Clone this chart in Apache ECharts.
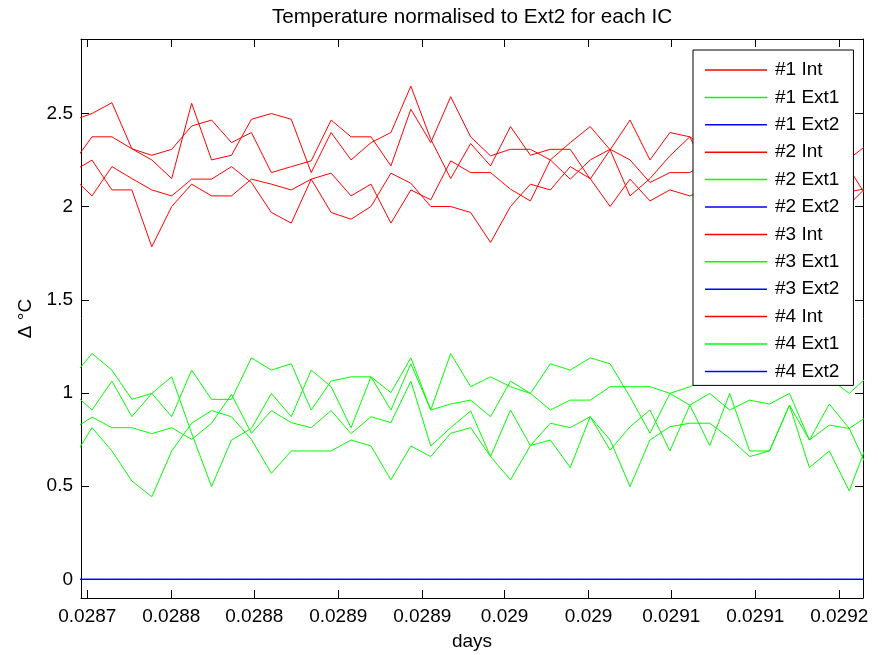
<!DOCTYPE html>
<html><head><meta charset="utf-8">
<script src="https://cdn.jsdelivr.net/npm/echarts@6/dist/echarts.min.js"></script>
<style>html,body{margin:0;padding:0;background:#fff}#c{width:878px;height:655px}</style>
</head><body><div id="c"></div>
<script>
// sample index 0..40 (x axis), tick positions expressed in sample-index units
const xTickValues = [0.764, 4.979, 9.143, 13.358, 17.573, 21.707, 25.922, 30.067, 34.282, 38.497];
const xTickLabels = ['0.0287','0.0288','0.0288','0.0289','0.0289','0.029','0.029','0.0291','0.0291','0.0292'];
const yTickValues = [0, 0.5, 1, 1.5, 2, 2.5];
const yTickLabels = ['0','0.5','1','1.5','2','2.5'];

const seriesNames = ['#1 Int','#1 Ext1','#1 Ext2','#2 Int','#2 Ext1','#2 Ext2','#3 Int','#3 Ext1','#3 Ext2','#4 Int','#4 Ext1','#4 Ext2'];

const int1 = [2.462,2.500,2.558,2.311,2.276,2.308,2.433,2.465,2.344,2.398,2.183,2.215,2.246,2.465,2.375,2.375,2.219,2.523,2.344,2.590,2.375,2.273,2.308,2.308,2.251,2.148,2.251,2.308,2.251,2.130,2.183,2.183,2.25,2.30,2.20,2.35,2.28,2.22,2.30,2.258,2.340];
const int2 = [2.228,2.375,2.375,2.311,2.251,2.151,2.555,2.251,2.276,2.469,2.500,2.469,2.183,2.398,2.251,2.344,2.398,2.647,2.362,2.151,2.339,2.219,2.430,2.276,2.308,2.308,2.148,2.305,2.465,2.251,2.398,2.375,2.30,2.20,2.35,2.25,2.30,2.18,2.24,2.203,2.033];
const int3 = [2.187,2.250,2.090,2.090,1.785,2.001,2.121,2.058,2.058,2.148,2.121,2.090,2.148,2.180,2.058,2.121,1.912,2.090,2.037,2.246,2.183,2.183,2.094,2.031,2.251,2.344,2.430,2.305,2.058,2.151,2.273,2.375,2.15,2.10,2.20,2.05,2.12,2.08,2.05,2.012,2.120];
const int4 = [2.161,2.058,2.215,2.151,2.090,2.058,2.148,2.148,2.215,2.130,1.969,1.912,2.148,1.969,1.933,2.001,2.180,2.126,2.001,2.001,1.969,1.808,2.001,2.121,2.090,2.215,2.151,2.001,2.148,2.031,2.090,2.058,2.10,2.05,2.12,2.00,2.08,2.10,2.08,2.08,2.10];

const ext1_1 = [1.083,1.212,1.123,0.966,0.998,1.087,0.784,0.498,0.748,0.810,0.998,0.873,1.123,1.034,0.814,1.087,1.002,1.189,0.909,1.212,1.034,1.087,1.034,0.998,0.909,0.962,0.962,1.034,1.034,1.034,0.998,1.034,1.078,1.096,1.078,1.061,1.114,1.061,1.078,0.998,1.096];
const ext1_2 = [1.005,0.909,1.064,0.873,0.998,0.873,1.123,0.966,0.966,1.189,1.123,1.157,0.909,1.064,1.087,1.087,0.909,1.157,0.909,0.941,0.962,0.873,1.064,0.998,1.157,1.123,1.189,1.157,0.980,0.784,0.998,0.935,0.998,0.909,0.962,0.941,0.998,0.748,0.941,0.810,0.881];
const ext1_3 = [0.801,0.871,0.814,0.814,0.782,0.814,0.751,0.838,0.993,0.784,0.906,0.841,0.814,0.906,0.782,0.873,0.841,1.064,0.716,0.814,0.904,0.659,0.909,0.718,0.838,0.814,0.873,0.694,0.819,0.909,0.689,0.935,0.718,0.998,0.689,0.689,0.935,0.748,0.828,0.810,0.578];
const ext1_4 = [0.640,0.814,0.689,0.528,0.443,0.689,0.838,0.906,0.873,0.751,0.569,0.689,0.689,0.689,0.748,0.716,0.534,0.716,0.659,0.784,0.814,0.659,0.534,0.718,0.748,0.600,0.873,0.748,0.498,0.748,0.819,0.838,0.838,0.757,0.659,0.689,0.935,0.600,0.689,0.475,0.757];

const ext2 = [0,0,0,0,0,0,0,0,0,0,0,0,0,0,0,0,0,0,0,0,0,0,0,0,0,0,0,0,0,0,0,0,0,0,0,0,0,0,0,0,0];

const seriesData = [int1, ext1_1, ext2, int2, ext1_2, ext2, int3, ext1_3, ext2, int4, ext1_4, ext2];
const colors = ['#ff0000','#00ff00','#0000ff'];

const FONT = 'Liberation Sans, Arial, Helvetica, sans-serif';
const chart = echarts.init(document.getElementById('c'), null, {renderer: 'canvas'});

function nearestLabel(v, vals, labels) {
  let best = 0;
  for (let i = 1; i < vals.length; i++) if (Math.abs(vals[i]-v) < Math.abs(vals[best]-v)) best = i;
  return labels[best];
}

const axisCommon = {
  axisLine: {show: true, onZero: false, lineStyle: {color: '#000', width: 1}},
  splitLine: {show: false}
};

chart.setOption({
  animation: false,
  backgroundColor: '#fff',
  title: {
    text: 'Temperature normalised to Ext2 for each IC',
    left: 467, top: 1.5, textAlign: 'center',
    textStyle: {fontFamily: FONT, fontSize: 20.7, fontWeight: 'normal', color: '#000'}
  },
  grid: {left: 81, right: 15, top: 39, bottom: 57, containLabel: false, outerBoundsMode: 'none'},
  legend: {
    orient: 'vertical', left: 693, top: 50,
    backgroundColor: '#fff', borderColor: '#000', borderWidth: 1, borderRadius: 0,
    padding: [10, 14, 4, 12],
    icon: 'rect',
    itemWidth: 62, itemHeight: 1.5, itemGap: 7.4,
    textStyle: {fontFamily: FONT, fontSize: 19, color: '#000', lineHeight: 20, padding: [0,0,0,3]},
    data: seriesNames
  },
  xAxis: [
    Object.assign({}, axisCommon, {
      type: 'value', min: 0.448, max: 39.69, position: 'bottom',
      name: 'days', nameLocation: 'middle', nameGap: 34,
      nameTextStyle: {fontFamily: FONT, fontSize: 19, color: '#000'},
      axisTick: {show: true, inside: true, length: 8, lineStyle: {color: '#000'}, customValues: xTickValues},
      axisLabel: {show: true, margin: 9, fontFamily: FONT, fontSize: 19, color: '#000', customValues: xTickValues,
        formatter: v => nearestLabel(v, xTickValues, xTickLabels)}
    }),
    Object.assign({}, axisCommon, {
      type: 'value', min: 0.448, max: 39.69, position: 'top',
      axisTick: {show: true, inside: true, length: 8, lineStyle: {color: '#000'}, customValues: xTickValues},
      axisLabel: {show: false}
    })
  ],
  yAxis: [
    Object.assign({}, axisCommon, {
      type: 'value', min: -0.1, max: 2.9, position: 'left',
      name: 'Δ °C', nameLocation: 'middle', nameGap: 36, nameRotate: 90,
      nameTextStyle: {fontFamily: FONT, fontSize: 19, color: '#000'},
      axisTick: {show: true, inside: true, length: 8, lineStyle: {color: '#000'}, customValues: yTickValues},
      axisLabel: {show: true, margin: 8, fontFamily: FONT, fontSize: 19, color: '#000', customValues: yTickValues,
        formatter: v => nearestLabel(v, yTickValues, yTickLabels)}
    }),
    Object.assign({}, axisCommon, {
      type: 'value', min: -0.1, max: 2.9, position: 'right',
      axisTick: {show: true, inside: true, length: 8, lineStyle: {color: '#000'}, customValues: yTickValues},
      axisLabel: {show: false}
    })
  ],
  series: seriesNames.map((name, i) => ({
    name: name,
    type: 'line',
    xAxisIndex: 0, yAxisIndex: 0,
    data: seriesData[i].map((v, k) => [k, v]),
    symbol: 'none', showSymbol: false,
    lineStyle: {color: colors[i % 3], width: 1},
    itemStyle: {color: colors[i % 3]},
    emphasis: {disabled: true},
    silent: true,
    clip: true
  }))
});
</script>
</body></html>
